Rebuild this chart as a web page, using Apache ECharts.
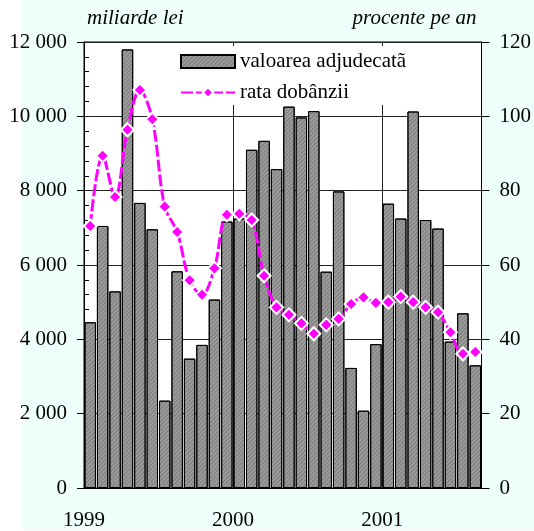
<!DOCTYPE html>
<html>
<head>
<meta charset="utf-8">
<script src="https://cdn.jsdelivr.net/npm/echarts@6/dist/echarts.min.js"></script>
<style>
  html, body { margin: 0; padding: 0; background: #fff; }
  #chart { width: 534px; height: 531px; }
</style>
</head>
<body>
<div id="chart"></div>
<script>
// lunile 1999 - aug 2001
const months = [
  '1999-01','1999-02','1999-03','1999-04','1999-05','1999-06','1999-07','1999-08','1999-09','1999-10','1999-11','1999-12',
  '2000-01','2000-02','2000-03','2000-04','2000-05','2000-06','2000-07','2000-08','2000-09','2000-10','2000-11','2000-12',
  '2001-01','2001-02','2001-03','2001-04','2001-05','2001-06','2001-07','2001-08'
]
const yearLabels = ['1999', '2000', '2001']
// valoarea adjudecata, miliarde lei
const amounts = [4460, 7050, 5290, 11800, 7670, 6960, 2350, 5830, 3480, 3850, 5070, 7170,
  7250, 9100, 9340, 8580, 10260, 9970, 10140, 5820, 7980, 3230, 2080, 3870,
  7650, 7250, 10130, 7210, 6980, 3940, 4700, 3300]
// rata dobanzii, procente pe an
const rates = [70.5, 89.4, 78.3, 96.4, 107.1, 99.2, 75.7, 68.9, 55.9, 52.0, 59.1, 73.5,
  73.8, 72.1, 57.1, 48.6, 46.6, 44.3, 41.5, 43.9, 45.5, 49.5, 51.3, 49.8,
  50.0, 51.5, 50.0, 48.6, 47.3, 41.9, 36.1, 36.6]
const leftTicks = [0, 2000, 4000, 6000, 8000, 10000, 12000]
const rightTicks = [0, 20, 40, 60, 80, 100, 120]

const font = '"Liberation Serif", "Times New Roman", serif'

const chart = echarts.init(document.getElementById('chart'))

const option = {
  animation: false,
  textStyle: { fontFamily: font, color: '#000' },
  graphic: [{
    type: 'rect',
    z: -10,
    silent: true,
    shape: { x: 22, y: 0, width: 512, height: 530 },
    style: { fill: '#eefffb' }
  }],
  grid: {
    left: 84, right: 51, top: 42, bottom: 41,
    show: true,
    backgroundColor: '#fff',
    borderColor: '#000',
    borderWidth: 1
  },
  legend: {
    orient: 'vertical',
    left: 175,
    top: 46,
    z: 1,
    padding: [5, 8, 2, 5],
    itemGap: 10,
    itemWidth: 54,
    itemHeight: 13,
    backgroundColor: '#fff',
    textStyle: { fontFamily: font, fontSize: 21, lineHeight: 20, color: '#000' },
    data: [
      { name: 'valoarea adjudecatã', icon: 'rect' },
      { name: 'rata dobânzii' }
    ]
  },
  xAxis: [
    {
      type: 'category',
      data: months,
      boundaryGap: true,
      axisLine: { show: true, lineStyle: { color: '#000', width: 1 } },
      axisTick: { show: false },
      axisLabel: { show: false },
      splitLine: { show: false }
    },
    {
      // axa ajutatoare pentru ani: etichete si linii la granita anului
      type: 'value',
      position: 'bottom',
      min: 0,
      max: months.length,
      interval: 12,
      axisLine: { show: false },
      axisTick: { show: false },
      axisLabel: {
        margin: 22,
        fontFamily: font,
        fontSize: 21,
        color: '#000',
        showMaxLabel: false,
        formatter: v => yearLabels[v / 12] || ''
      },
      splitLine: { show: true, lineStyle: { color: '#222', width: 1 } }
    }
  ],
  yAxis: [
    {
      type: 'value',
      name: 'miliarde lei',
      nameLocation: 'end',
      nameGap: 13,
      nameTextStyle: { fontFamily: font, fontSize: 21, fontStyle: 'italic', align: 'left', color: '#000', padding: [0, 0, 0, 3] },
      min: leftTicks[0],
      max: leftTicks[leftTicks.length - 1],
      interval: 2000,
      axisLine: { show: true, lineStyle: { color: '#000' } },
      axisTick: { show: true, length: 7, lineStyle: { color: '#000' } },
      minorTick: { show: true, splitNumber: 5, length: -5, lineStyle: { color: '#000' } },
      axisLabel: {
        margin: 17,
        fontFamily: font,
        fontSize: 21,
        color: '#000',
        formatter: v => String(v).replace(/\B(?=(\d{3})+(?!\d))/g, ' ')
      },
      splitLine: { show: true, lineStyle: { color: '#222', width: 1 } }
    },
    {
      type: 'value',
      name: 'procente pe an',
      nameLocation: 'end',
      nameGap: 13,
      nameTextStyle: { fontFamily: font, fontSize: 21, fontStyle: 'italic', align: 'right', color: '#000', padding: [0, 5, 0, 0] },
      position: 'right',
      min: rightTicks[0],
      max: rightTicks[rightTicks.length - 1],
      interval: 20,
      axisLine: { show: true, lineStyle: { color: '#000' } },
      axisTick: { show: true, length: 8, lineStyle: { color: '#000' } },
      axisLabel: { margin: 18, fontFamily: font, fontSize: 21, color: '#000' },
      splitLine: { show: false }
    }
  ],
  series: [
    {
      name: 'valoarea adjudecatã',
      type: 'bar',
      xAxisIndex: 0,
      yAxisIndex: 0,
      data: amounts,
      barCategoryGap: '8%',
      z: 2,
      itemStyle: {
        color: '#9c9c9c',
        borderColor: '#000',
        borderWidth: 1,
        decal: {
          symbol: 'rect',
          symbolSize: 1,
          dashArrayX: [1, 0],
          dashArrayY: [1, 2],
          rotation: -Math.PI / 4,
          color: 'rgba(60,60,60,0.35)'
        }
      }
    },
    {
      name: 'rata dobânzii',
      type: 'line',
      xAxisIndex: 0,
      yAxisIndex: 1,
      data: rates,
      smooth: 0.35,
      z: 5,
      showSymbol: true,
      showAllSymbol: true,
      symbol: 'diamond',
      symbolSize: 13,
      lineStyle: { color: '#ff00ff', width: 3, type: [12, 3] },
      itemStyle: { color: '#ff00ff', borderColor: '#fff', borderWidth: 2 }
    }
  ]
}

chart.setOption(option)
window.addEventListener('resize', () => { chart.resize() })
</script>
</body>
</html>
